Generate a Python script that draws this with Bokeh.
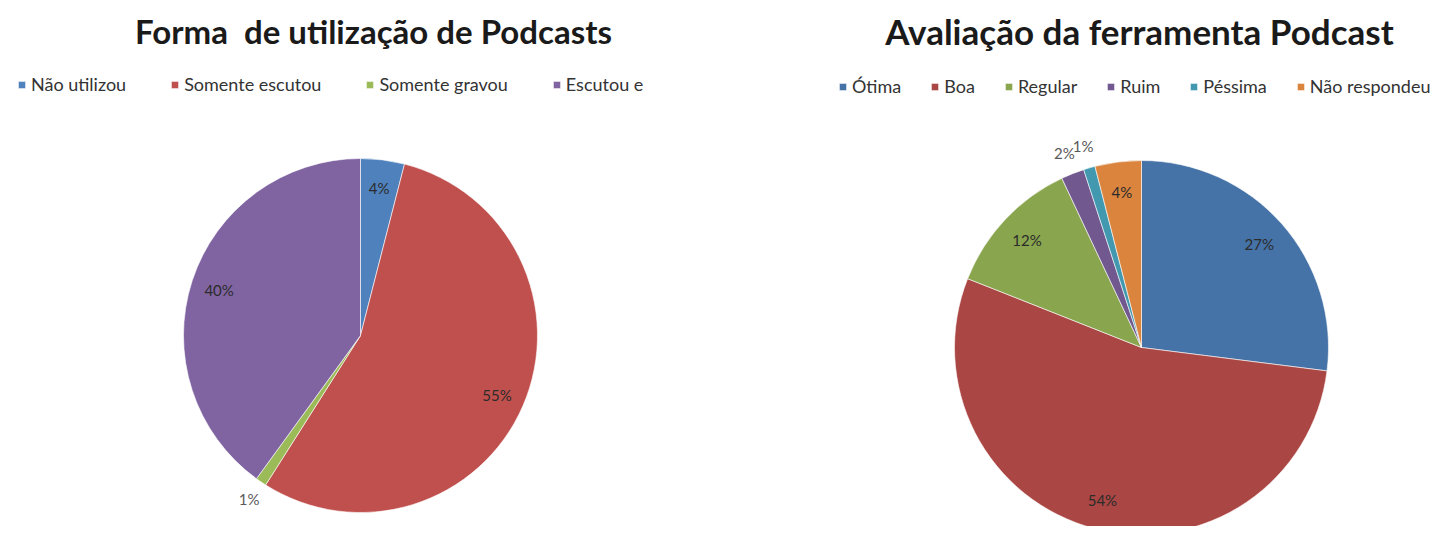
import math
from bokeh.plotting import figure
from bokeh.layouts import row
from bokeh.models import Range1d, Label, ColumnDataSource
from bokeh.core.properties import value
from bokeh.embed import file_html
from bokeh.resources import INLINE

# ---------------- data ----------------
left_title = "Forma  de utilização de Podcasts"
left_labels = ["Não utilizou", "Somente escutou", "Somente gravou", "Escutou e"]
left_values = [4, 55, 1, 40]
left_colors = ["#4F81BD", "#C0504D", "#9BBB59", "#8064A2"]

right_title = "Avaliação da ferramenta Podcast"
right_labels = ["Ótima", "Boa", "Regular", "Ruim", "Péssima", "Não respondeu"]
right_values = [27, 54, 12, 2, 1, 4]
right_colors = ["#4572A7", "#AA4643", "#89A54E", "#71588F", "#4198AF", "#DB843D"]

FONT = "Lato"
IMG_H = 534
FIG_H = 526


def make_pie(title, labels, values, colors, x0, width, cx, cy, r,
             title_x, title_size, legend_loc, legend_spacing):
    p = figure(width=width, height=FIG_H, output_backend="svg", toolbar_location=None,
               x_range=Range1d(x0, x0 + width), y_range=Range1d(IMG_H - FIG_H, IMG_H),
               x_axis_location=None, y_axis_location=None, min_border=0)
    p.grid.visible = False
    p.outline_line_color = None
    p.background_fill_color = "white"

    total = float(sum(values))
    starts, ends, lx, ly, txt, tcol = [], [], [], [], [], []
    cum = 0.0
    for v in values:
        a0 = math.pi / 2 - 2 * math.pi * cum / total
        cum += v
        a1 = math.pi / 2 - 2 * math.pi * cum / total
        starts.append(a0)
        ends.append(a1)
        mid = (a0 + a1) / 2
        pct = 100 * v / total
        f = 0.84 if pct >= 3 else 1.12
        lx.append(cx + f * r * math.cos(mid))
        ly.append((IMG_H - cy) + f * r * math.sin(mid))
        txt.append(f"{round(pct)}%")
        tcol.append("#2b2b2b" if pct >= 3 else "#595959")

    src = ColumnDataSource(dict(label=labels, value=values, color=colors,
                                start=starts, end=ends))
    p.wedge(x=cx, y=IMG_H - cy, radius=r, start_angle="start", end_angle="end",
            direction="clock", fill_color="color", line_color="white",
            line_width=0.6, source=src, legend_field="label")

    lsrc = ColumnDataSource(dict(x=lx, y=ly, text=txt, color=tcol))
    p.text(x="x", y="y", text="text", source=lsrc, text_align="center",
           text_baseline="middle", text_font=value(FONT), text_font_size="15px",
           text_color="color")

    p.add_layout(Label(x=title_x, y=IMG_H - 30, text=title.replace("  ", "\u00a0 "),
                       text_align="center", text_baseline="middle", text_font=FONT,
                       text_font_size=title_size, text_font_style="bold",
                       text_color="#1a1a1a"))

    lg = p.legend[0]
    lg.orientation = "horizontal"
    lg.location = legend_loc
    lg.glyph_width = 9
    lg.glyph_height = 9
    lg.label_standoff = 5
    lg.spacing = legend_spacing
    lg.padding = 0
    lg.margin = 0
    lg.label_height = 20
    lg.label_text_font = FONT
    lg.label_text_font_size = "18px"
    lg.label_text_color = "#333333"
    lg.border_line_color = None
    lg.background_fill_alpha = 0
    return p


p1 = make_pie(left_title, left_labels, left_values, left_colors,
              0, 720, 360, 335, 177, 373, "33px", (17, 431), 44)
p2 = make_pie(right_title, right_labels, right_values, right_colors,
              720, 715, 1141, 347, 187, 1139, "35px", (838 - 720, 429), 29)

layout = row(p1, p2)
open("out.html", "w").write(file_html(layout, INLINE))
